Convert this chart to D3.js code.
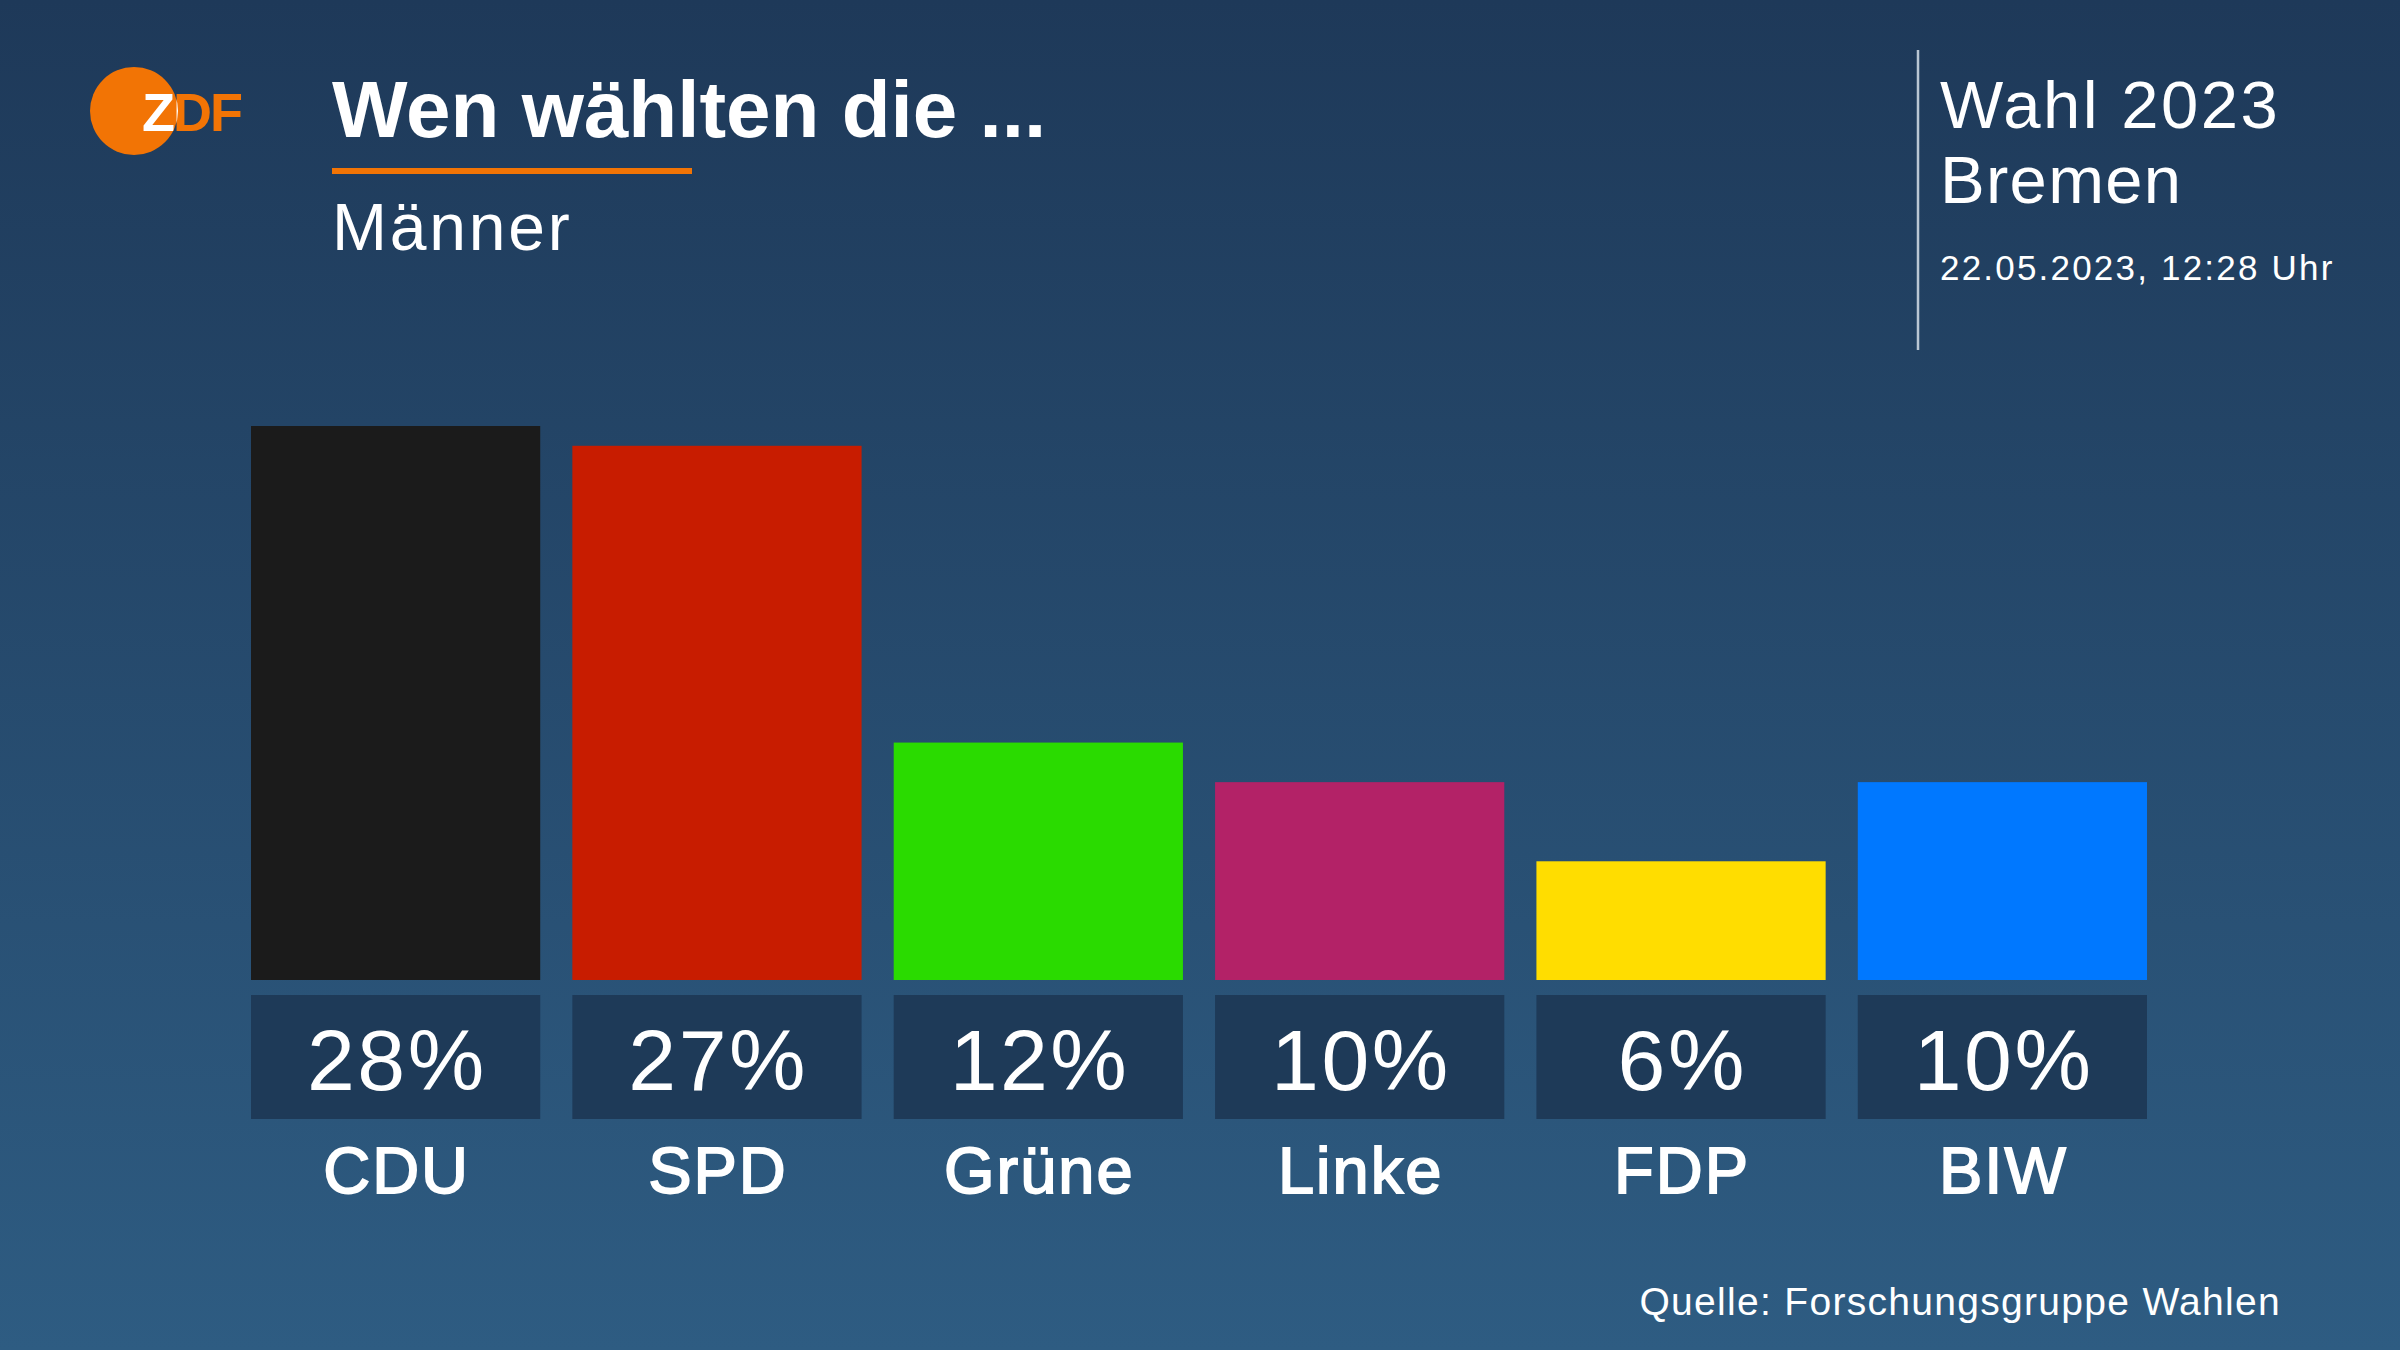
<!DOCTYPE html>
<html>
<head>
<meta charset="utf-8">
<script src="https://cdn.jsdelivr.net/npm/d3@7"></script>
<style>
  body { margin: 0; background: #1e3958; }
  svg { display: block; font-family: "Liberation Sans", Arial, sans-serif; }
</style>
</head>
<body>
<script>
// Wen wählten die ... – Männer, Bremen 2023
const parties = ['CDU', 'SPD', 'Grüne', 'Linke', 'FDP', 'BIW']
const shares = [28, 27, 12, 10, 6, 10]
const colors = ['#1b1b1b', '#c81c00', '#2adb00', '#b32267', '#ffdd00', '#0078ff']

const width = 2400
const height = 1350

const svg = d3.select('body')
    .append('svg')
    .attr('width', width)
    .attr('height', height)

// background gradient
const defs = svg.append('defs')
const grad = defs.append('linearGradient')
    .attr('id', 'bg')
    .attr('x1', 0).attr('y1', 0)
    .attr('x2', 0).attr('y2', 1)
grad.append('stop').attr('offset', '0%').attr('stop-color', '#1e3959')
grad.append('stop').attr('offset', '100%').attr('stop-color', '#2e5c82')

svg.append('rect')
    .attr('width', width)
    .attr('height', height)
    .attr('fill', 'url(#bg)')

// logo
defs.append('clipPath')
    .attr('id', 'logoClip')
    .append('circle')
    .attr('cx', 134).attr('cy', 111).attr('r', 44)

const logo = svg.append('g')
logo.append('circle')
    .attr('cx', 134).attr('cy', 111).attr('r', 44)
    .attr('fill', '#f27405')
logo.append('text')
    .attr('x', 142).attr('y', 131)
    .attr('font-size', 54).attr('font-weight', 'bold')
    .attr('letter-spacing', -2)
    .attr('fill', '#f27405')
    .text('ZDF')
logo.append('text')
    .attr('x', 142).attr('y', 131)
    .attr('font-size', 54).attr('font-weight', 'bold')
    .attr('letter-spacing', -2)
    .attr('fill', '#fff')
    .attr('clip-path', 'url(#logoClip)')
    .text('ZDF')

// title block
svg.append('text')
    .attr('x', 332).attr('y', 137)
    .attr('font-size', 80).attr('font-weight', 'bold')
    .attr('fill', '#fff')
    .text('Wen wählten die ...')

svg.append('rect')
    .attr('x', 332).attr('y', 168)
    .attr('width', 360).attr('height', 6)
    .attr('fill', '#f27405')

svg.append('text')
    .attr('x', 332).attr('y', 250)
    .attr('font-size', 66)
    .attr('letter-spacing', 2.8)
    .attr('fill', '#fff')
    .text('Männer')

// top right
svg.append('line')
    .attr('x1', 1918).attr('x2', 1918)
    .attr('y1', 50).attr('y2', 350)
    .attr('stroke', '#b9c6d3').attr('stroke-width', 2.5)

svg.append('text')
    .attr('x', 1940).attr('y', 128)
    .attr('font-size', 67).attr('fill', '#fff')
    .attr('letter-spacing', 2.5)
    .text('Wahl 2023')
svg.append('text')
    .attr('x', 1940).attr('y', 203)
    .attr('font-size', 67).attr('fill', '#fff')
    .attr('letter-spacing', 1.3)
    .text('Bremen')
svg.append('text')
    .attr('x', 1940).attr('y', 280)
    .attr('font-size', 35).attr('fill', '#fff')
    .attr('letter-spacing', 2.2)
    .text('22.05.2023, 12:28 Uhr')

// scales
const x = d3.scaleBand()
    .domain(parties)
    .range([251, 2147])
    .paddingInner(0.1)
    .paddingOuter(0)

const y = d3.scaleLinear()
    .domain([0, d3.max(shares)])
    .range([980, 426])

const data = parties.map((p, i) => ({ party: p, value: shares[i], color: colors[i] }))

// bars
svg.append('g')
    .selectAll('rect')
    .data(data)
    .join('rect')
    .attr('x', d => x(d.party))
    .attr('y', d => y(d.value))
    .attr('width', x.bandwidth())
    .attr('height', d => y(0) - y(d.value))
    .attr('fill', d => d.color)

// value boxes
const boxes = svg.append('g')
    .selectAll('g')
    .data(data)
    .join('g')
    .attr('transform', d => `translate(${x(d.party)}, 995)`)

boxes.append('rect')
    .attr('width', x.bandwidth())
    .attr('height', 124)
    .attr('fill', '#1e3a58')

boxes.append('text')
    .attr('x', x.bandwidth() / 2 + 1.2)
    .attr('y', 95)
    .attr('text-anchor', 'middle')
    .attr('font-size', 86)
    .attr('letter-spacing', 2.5)
    .attr('fill', '#fff')
    .text(d => d.value + '%')

// party labels
svg.append('g')
    .selectAll('text')
    .data(data)
    .join('text')
    .attr('x', d => x(d.party) + x.bandwidth() / 2 + 1)
    .attr('y', 1193)
    .attr('text-anchor', 'middle')
    .attr('font-size', 65)
    .attr('letter-spacing', 2)
    .attr('fill', '#fff')
    .attr('stroke', '#fff')
    .attr('stroke-width', 1.8)
    .text(d => d.party)

// source
svg.append('text')
    .attr('x', 2281).attr('y', 1315)
    .attr('text-anchor', 'end')
    .attr('font-size', 39)
    .attr('letter-spacing', 1.3)
    .attr('fill', '#fff')
    .text('Quelle: Forschungsgruppe Wahlen')
</script>
</body>
</html>
